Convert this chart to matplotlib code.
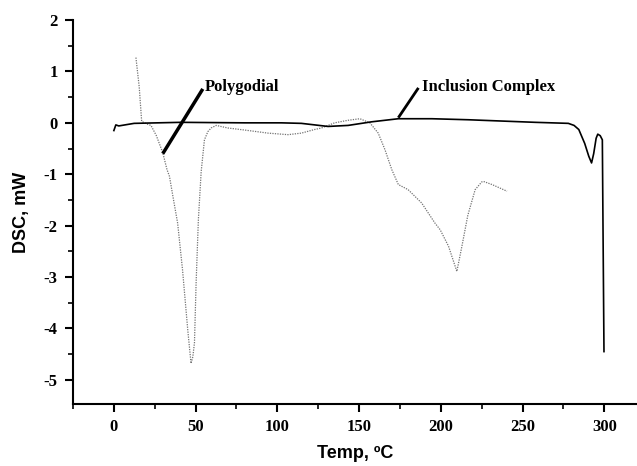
import matplotlib
matplotlib.use("Agg")
import matplotlib.pyplot as plt
from matplotlib.ticker import MultipleLocator

plt.rcParams["axes.unicode_minus"] = False

# Polygodial (dotted trace)
poly_t = [13.5, 15.5, 17.0, 20.0, 22.7, 26.0, 29.9, 32.5, 34.0, 36.5, 39.0,
          42.0, 45.2, 47.2, 48.3, 49.3, 50.3, 51.7, 53.4, 55.4, 57.5, 59.5,
          62.6, 69.7, 80.0, 94.3, 106.5, 114.7, 122.7, 127.0, 135.0, 143.3,
          150.5, 156.6, 161.7, 165.8, 170.0, 174.0, 180.0, 188.3, 196.4,
          199.6, 204.7, 209.8, 212.9, 216.5, 221.0, 225.0, 226.1, 231.3,
          240.5]
poly_dsc = [1.27, 0.70, 0.03, -0.02, -0.05, -0.25, -0.58, -0.91, -1.04,
            -1.50, -1.95, -2.86, -4.03, -4.68, -4.55, -4.28, -3.12, -1.88,
            -0.95, -0.33, -0.17, -0.10, -0.05, -0.10, -0.14, -0.20, -0.23,
            -0.20, -0.13, -0.10, 0.00, 0.05, 0.08, 0.00, -0.20, -0.52, -0.91,
            -1.20, -1.30, -1.56, -1.95, -2.08, -2.40, -2.89, -2.40, -1.80,
            -1.30, -1.15, -1.14, -1.20, -1.33]

# Inclusion complex (solid trace)
inc_t = [0.0, 1.2, 3.0, 12.4, 41.0, 80.0, 102.5, 114.7, 131.0, 143.3, 157.7,
         174.0, 194.5, 217.0, 225.0, 257.8, 278.0, 281.5, 284.4, 288.0,
         290.5, 292.2, 293.5, 295.0, 296.0, 297.5, 298.8, 299.2, 299.8]
inc_dsc = [-0.15, -0.04, -0.06, -0.01, 0.01, 0.00, 0.00, -0.01, -0.07, -0.05,
           0.02, 0.08, 0.08, 0.06, 0.05, 0.01, -0.01, -0.05, -0.13, -0.40,
           -0.65, -0.78, -0.60, -0.30, -0.22, -0.25, -0.33, -2.00, -4.45]

fig = plt.figure(figsize=(6.37, 4.66), dpi=100)
ax = fig.add_axes([0.1146, 0.133, 0.8854, 0.824])

ax.plot(poly_t, poly_dsc, color="0.45", lw=0.9, linestyle=(0, (1, 1)))
ax.plot(inc_t, inc_dsc, color="black", lw=1.2)

# -- annotation pointers ----------------------------------------------------
serif = ["Liberation Serif", "DejaVu Serif"]
ax.plot([29.9, 54.4], [-0.60, 0.66], color="black", lw=2.5,
        solid_capstyle="butt")
ax.text(55.8, 0.69, "Polygodial", family=serif, fontsize=12,
        fontweight="bold", ha="left", va="center")
ax.plot([174.0, 186.3], [0.10, 0.68], color="black", lw=2.0,
        solid_capstyle="butt")
ax.text(188.3, 0.69, "Inclusion Complex", family=serif, fontsize=12,
        fontweight="bold", ha="left", va="center")

# -- axes ------------------------------------------------------------------
ax.set_xlim(-25, 320)
ax.set_ylim(-5.47, 2)
ax.spines["top"].set_visible(False)
ax.spines["right"].set_visible(False)
for s in ("left", "bottom"):
    ax.spines[s].set_linewidth(1.5)

ax.xaxis.set_major_locator(MultipleLocator(50))
ax.xaxis.set_minor_locator(MultipleLocator(25))
ax.yaxis.set_major_locator(MultipleLocator(1))
ax.yaxis.set_minor_locator(MultipleLocator(0.5))
ax.tick_params(which="major", direction="out", length=6, width=1.5,
               labelsize=12, pad=5)
ax.tick_params(which="minor", direction="out", length=3.5, width=1.2)
for lab in ax.get_xticklabels() + ax.get_yticklabels():
    lab.set_family(serif)
    lab.set_fontweight("bold")

sans = ["Liberation Sans", "DejaVu Sans"]
ax.set_xlabel("Temp, ºC", family=sans, fontweight="bold", fontsize=13,
              labelpad=7)
ax.set_ylabel("DSC, mW", family=sans, fontweight="bold", fontsize=13,
              labelpad=10)

fig.savefig("out.png", dpi=100)
